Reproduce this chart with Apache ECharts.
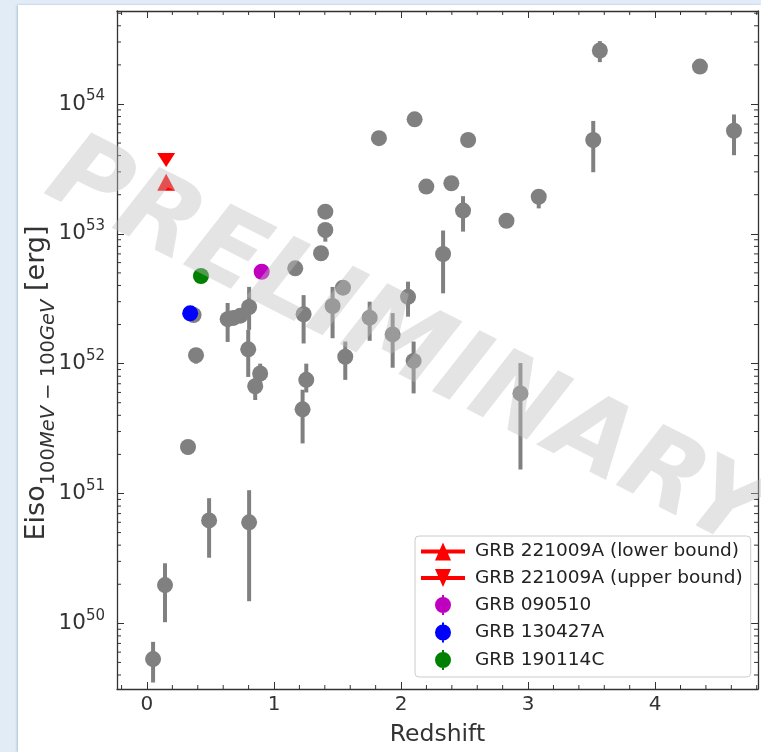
<!DOCTYPE html>
<html>
<head>
<meta charset="utf-8">
<script src="https://cdn.jsdelivr.net/npm/echarts@6/dist/echarts.min.js"></script>
<style>
html, body { margin: 0; height: 100%; background: #e1ecf7; overflow: hidden; }
#panel { position: absolute; left: 18px; top: 5px; right: 0; bottom: 0; background: #fff; box-shadow: -1px 0 2px rgba(110,140,180,0.45); }
#container { position: absolute; left: 0; top: 0; width: 761px; height: 752px; }
</style>
</head>
<body>
<div id="panel"></div>
<div id="container"></div>
<script>
// Fermi-LAT sample (grey): redshift, Eiso and its error range [erg]
var grbZ = [0.048, 0.142, 0.323, 0.367, 0.386, 0.489, 0.635, 0.68, 0.735, 0.797, 0.804, 0.804, 0.852, 0.891,
  1.167, 1.225, 1.233, 1.254, 1.370, 1.404, 1.404, 1.461, 1.543, 1.561, 1.753, 1.826, 1.934, 2.055, 2.099, 2.107,
  2.199, 2.331, 2.396, 2.488, 2.528, 2.830, 2.94, 3.084, 3.513, 3.565, 4.353, 4.621];
var grbEiso = [5.3e49, 1.97e50, 2.28e51, 2.37e52, 1.16e52, 6.2e50, 2.2e52, 2.25e52, 2.34e52, 1.29e52, 2.73e52, 6.0e50, 6.7e51, 8.4e51,
  5.42e52, 4.45e51, 2.40e52, 7.5e51, 7.08e52, 1.07e53, 1.48e53, 2.78e52, 3.85e52, 1.13e52, 2.26e52, 5.45e53, 1.68e52, 3.27e52, 1.05e52, 7.62e53,
  2.31e53, 6.99e52, 2.45e53, 1.51e53, 5.28e53, 1.26e53, 5.9e51, 1.93e53, 5.28e53, 2.58e54, 1.94e54, 6.22e53];
var grbLow = [3.5e49, 1.02e50, 2.0e51, 2.2e52, 1.0e52, 3.2e50, 1.47e52, 2.1e52, 2.2e52, 7.9e51, 1.82e52, 1.48e50, 5.25e51, 7.0e51,
  5.42e52, 2.43e51, 1.43e52, 6.0e51, 6.3e52, 8.7e52, 1.48e53, 1.57e52, 3.85e52, 7.5e51, 1.5e52, 5.45e53, 9.3e51, 2.3e52, 5.9e51, 7.62e53,
  2.31e53, 3.48e52, 2.45e53, 1.04e53, 5.28e53, 1.26e53, 1.53e51, 1.57e53, 2.98e53, 2.1e54, 1.94e54, 4.03e53];
var grbHigh = [7.2e49, 2.9e50, 2.55e51, 2.5e52, 1.3e52, 9.2e50, 2.93e52, 2.4e52, 2.5e52, 1.82e52, 3.9e52, 1.06e51, 7.8e51, 1.0e52,
  5.42e52, 6.3e51, 3.37e52, 1.0e52, 8.0e52, 1.2e53, 1.48e53, 3.9e52, 3.85e52, 1.48e52, 3.0e52, 5.45e53, 2.45e52, 4.28e52, 1.48e52, 7.62e53,
  2.31e53, 1.06e53, 2.45e53, 1.95e53, 5.28e53, 1.26e53, 1.01e52, 2.1e53, 7.4e53, 3.05e54, 1.94e54, 8.3e53];

// highlighted bursts
var grb221009A = { z: 0.151, lower: 2.5e53, upper: 3.7e53 };
var grb090510 = [0.903, 5.1e52];
var grb130427A = [0.340, 2.44e52];
var grb190114C = [0.425, 4.73e52];

var legendNames = ['GRB 221009A (lower bound)', 'GRB 221009A (upper bound)', 'GRB 090510', 'GRB 130427A', 'GRB 190114C'];

// axis ranges and minor ticks
var xRange = [-0.236, 4.81];
var yRange = [3.12e49, 5.2e54];
var xMinor = [-0.2, 0.2, 0.4, 0.6, 0.8, 1.2, 1.4, 1.6, 1.8, 2.2, 2.4, 2.6, 2.8, 3.2, 3.4, 3.6, 3.8, 4.2, 4.4, 4.6, 4.8];
var yMantissa = [2, 3, 4, 5, 6, 7, 8, 9];
var yDecades = [49, 50, 51, 52, 53, 54];

var yMinor = [];
yDecades.forEach(function (d) {
  yMantissa.forEach(function (m) {
    var v = m * Math.pow(10, d);
    if (v > yRange[0] && v < yRange[1]) yMinor.push(v);
  });
});

var grey = '#808080';
var font = 'DejaVu Sans';
var axisColor = '#333';

var points = grbZ.map(function (z, i) { return [z, grbEiso[i]]; });
var bars = grbZ.map(function (z, i) { return [z, grbEiso[i], grbLow[i], grbHigh[i]]; });

function renderBar(params, api) {
  var x = api.value(0);
  var lo = api.coord([x, api.value(2)]);
  var hi = api.coord([x, api.value(3)]);
  return {
    type: 'line',
    shape: { x1: lo[0], y1: lo[1], x2: hi[0], y2: hi[1] },
    style: { stroke: grey, lineWidth: 4 }
  };
}

function renderYMinor(params, api) {
  var cs = params.coordSys;
  var py = api.coord([0, api.value(1)])[1];
  return {
    type: 'group', children: [
      { type: 'line', shape: { x1: cs.x, y1: py, x2: cs.x + 4, y2: py }, style: { stroke: axisColor, lineWidth: 1 } },
      { type: 'line', shape: { x1: cs.x + cs.width, y1: py, x2: cs.x + cs.width - 4, y2: py }, style: { stroke: axisColor, lineWidth: 1 } }
    ]
  };
}

function renderXMinor(params, api) {
  var cs = params.coordSys;
  var px = api.coord([api.value(0), yRange[0]])[0];
  return {
    type: 'group', children: [
      { type: 'line', shape: { x1: px, y1: cs.y + cs.height, x2: px, y2: cs.y + cs.height - 4 }, style: { stroke: axisColor, lineWidth: 1 } },
      { type: 'line', shape: { x1: px, y1: cs.y, x2: px, y2: cs.y + 4 }, style: { stroke: axisColor, lineWidth: 1 } }
    ]
  };
}

function powLabel(v) {
  var p = Math.log10(v);
  var r = Math.round(p);
  if (Math.abs(p - r) > 1e-6) return '';
  return '{b|10}{sup|' + r + '}';
}

var barIcon = 'path://M0,8L44,8L44,12L0,12Z';
var iconUp = barIcon + 'M14,19L22,1L30,19Z';
var iconDown = barIcon + 'M14,1L30,1L22,19Z';
var iconDot = 'path://M0,10L0.01,10L0.01,10.01ZM44,10L43.99,10L43.99,10.01ZM14,10A8,8 0 1,1 30,10A8,8 0 1,1 14,10ZM21,0L23,0L23,20L21,20Z';

var dom = document.getElementById('container');
var myChart = echarts.init(dom, null, { renderer: 'canvas' });

var axisLine = { onZero: false, lineStyle: { color: axisColor, width: 1.3 } };
var axisTick = { inside: true, length: 7, lineStyle: { color: axisColor } };

var option = {
  animation: false,
  backgroundColor: 'transparent',
  textStyle: { fontFamily: font },
  grid: { left: 117, right: 3, top: 11, bottom: 63 },
  xAxis: [{
    type: 'value', min: xRange[0], max: xRange[1], splitNumber: 5,
    name: 'Redshift', nameLocation: 'middle', nameGap: 34,
    nameTextStyle: { fontSize: 23.5, color: axisColor, fontFamily: font },
    axisLine: axisLine, axisTick: axisTick,
    axisLabel: {
      fontSize: 20, color: axisColor, margin: 6, fontFamily: font, showMinLabel: false, showMaxLabel: false,
      formatter: function (v) { return Math.abs(v - Math.round(v)) < 1e-6 ? String(Math.round(v)) : ''; }
    },
    splitLine: { show: false }
  }, {
    type: 'value', position: 'top', min: xRange[0], max: xRange[1], splitNumber: 5,
    axisLine: axisLine, axisTick: axisTick,
    axisLabel: { show: false },
    splitLine: { show: false }
  }],
  yAxis: [{
    type: 'log', logBase: 10, min: yRange[0], max: yRange[1], splitNumber: 5,
    name: '{m|Eiso}{s|100}{si|MeV}{s| \u2212 100}{si|GeV}{m| [erg]}',
    nameLocation: 'middle', nameRotate: 90, nameGap: 58, nameMoveOverlap: false,
    nameTextStyle: {
      color: axisColor, fontFamily: font, padding: [0, 66, 0, 0],
      rich: {
        m: { fontSize: 27, lineHeight: 44, color: axisColor, fontFamily: font },
        s: { fontSize: 19.5, lineHeight: 20, verticalAlign: 'bottom', color: axisColor, fontFamily: font },
        si: { fontSize: 19.5, lineHeight: 20, verticalAlign: 'bottom', fontStyle: 'italic', color: axisColor, fontFamily: font }
      }
    },
    axisLine: axisLine, axisTick: axisTick,
    axisLabel: {
      margin: 12, color: axisColor, showMinLabel: false, showMaxLabel: false,
      formatter: powLabel,
      rich: {
        b: { fontSize: 21.5, lineHeight: 30, color: axisColor, fontFamily: font },
        sup: { fontSize: 15, lineHeight: 15, verticalAlign: 'top', color: axisColor, fontFamily: font }
      }
    },
    splitLine: { show: false }
  }, {
    type: 'log', logBase: 10, position: 'right', min: yRange[0], max: yRange[1], splitNumber: 5,
    axisLine: axisLine, axisTick: axisTick,
    axisLabel: { show: false },
    splitLine: { show: false }
  }],
  legend: {
    data: [
      { name: legendNames[0], icon: iconUp },
      { name: legendNames[1], icon: iconDown },
      { name: legendNames[2], icon: iconDot },
      { name: legendNames[3], icon: iconDot },
      { name: legendNames[4], icon: iconDot }
    ],
    orient: 'vertical', left: 415, top: 536,
    itemWidth: 44, itemHeight: 20, itemGap: 7.5, padding: [6, 8, 7, 6],
    backgroundColor: 'rgba(255,255,255,0.85)', borderColor: '#cccccc', borderWidth: 1, borderRadius: 4,
    textStyle: { fontSize: 18.5, color: '#222', fontFamily: font, padding: [0, 0, 0, 5] },
    z: 200
  },
  graphic: [{
    type: 'text', x: 405, y: 347, rotation: -27 * Math.PI / 180, z: 100, silent: true,
    style: {
      text: 'PRELIMINARY', fontSize: 104, fontWeight: 'bold', fontStyle: 'italic', fontFamily: font,
      fill: 'rgba(190,190,190,0.42)', align: 'center', verticalAlign: 'middle'
    }
  }],
  series: [
    { type: 'custom', name: 'yminor', renderItem: renderYMinor, data: yMinor.map(function (v) { return [0, v]; }), silent: true, clip: false, z: 1 },
    { type: 'custom', name: 'xminor', renderItem: renderXMinor, data: xMinor.map(function (v) { return [v, yRange[0]]; }), silent: true, clip: false, z: 1 },
    { type: 'custom', name: 'errbars', renderItem: renderBar, data: bars, silent: true, z: 2, encode: { x: 0, y: [1, 2, 3] } },
    { type: 'scatter', name: 'sample', data: points, symbol: 'circle', symbolSize: 16, itemStyle: { color: grey, opacity: 1 }, z: 3 },
    { type: 'scatter', name: legendNames[0], data: [[grb221009A.z, grb221009A.lower]], symbol: 'triangle', symbolSize: [18, 17], itemStyle: { color: '#ff0000', opacity: 1 }, z: 4 },
    { type: 'scatter', name: legendNames[1], data: [[grb221009A.z, grb221009A.upper]], symbol: 'triangle', symbolRotate: 180, symbolSize: [18, 14], itemStyle: { color: '#ff0000', opacity: 1 }, z: 4 },
    { type: 'scatter', name: legendNames[2], data: [grb090510], symbol: 'circle', symbolSize: 16, itemStyle: { color: '#bf00bf', opacity: 1 }, z: 4 },
    { type: 'scatter', name: legendNames[3], data: [grb130427A], symbol: 'circle', symbolSize: 16, itemStyle: { color: '#0000ff', opacity: 1 }, z: 4 },
    { type: 'scatter', name: legendNames[4], data: [grb190114C], symbol: 'circle', symbolSize: 16, itemStyle: { color: '#008000', opacity: 1 }, z: 4 }
  ]
};

myChart.setOption(option);
window.addEventListener('resize', myChart.resize);
</script>
</body>
</html>
